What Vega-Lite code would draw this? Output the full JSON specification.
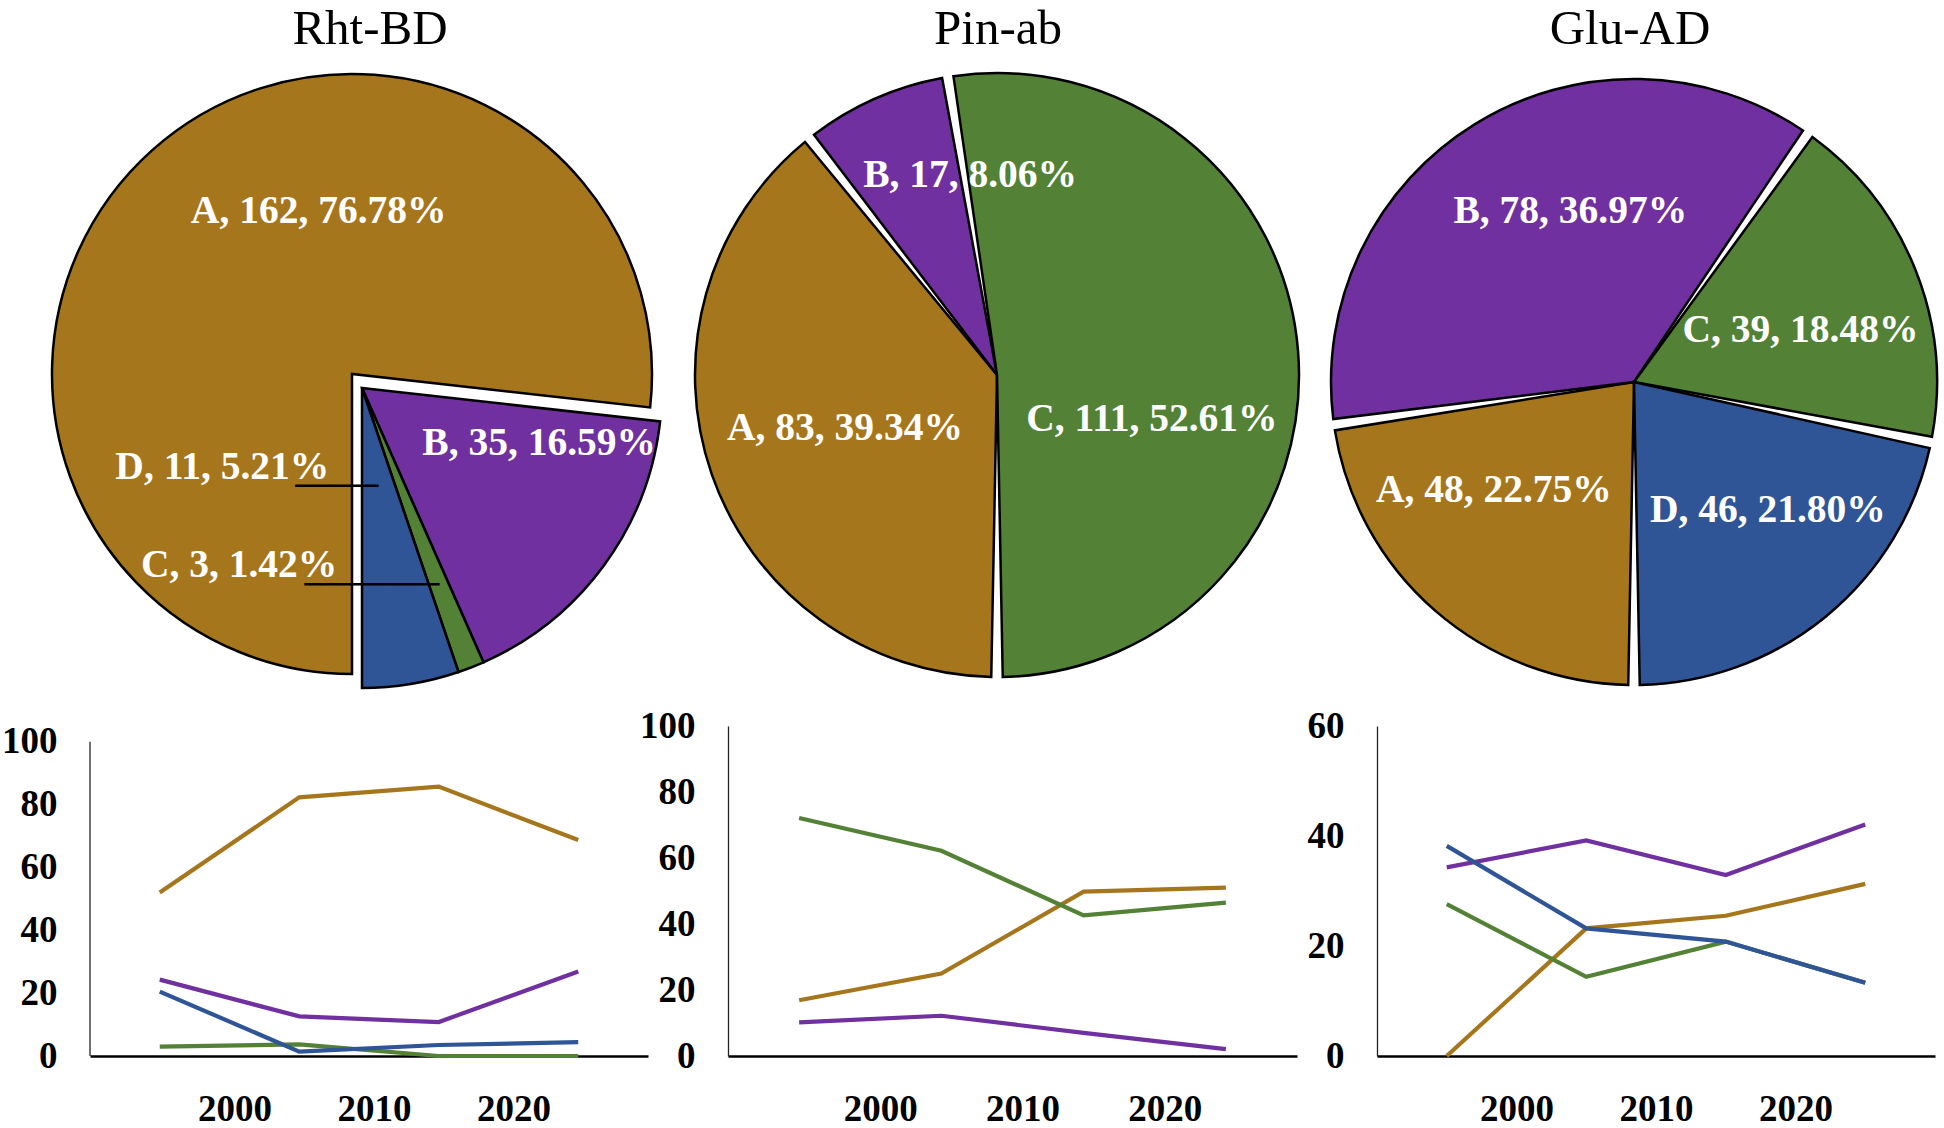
{
  "$schema": "https://vega.github.io/schema/vega-lite/v6.json",
  "autosize": {"type": "none"},
  "padding": {"left": 90, "top": 60, "right": 1854, "bottom": 1068},
  "background": "white",
  "datasets": {
    "pies": [
      {"g": "Rht-BD", "k": "A", "n": 162, "label": "A, 162, 76.78%"},
      {"g": "Rht-BD", "k": "B", "n": 35, "label": "B, 35, 16.59%"},
      {"g": "Rht-BD", "k": "C", "n": 3, "label": "C, 3, 1.42%"},
      {"g": "Rht-BD", "k": "D", "n": 11, "label": "D, 11, 5.21%"},
      {"g": "Pin-ab", "k": "A", "n": 83, "label": "A, 83, 39.34%"},
      {"g": "Pin-ab", "k": "B", "n": 17, "label": "B, 17, 8.06%"},
      {"g": "Pin-ab", "k": "C", "n": 111, "label": "C, 111, 52.61%"},
      {"g": "Glu-AD", "k": "A", "n": 48, "label": "A, 48, 22.75%"},
      {"g": "Glu-AD", "k": "B", "n": 78, "label": "B, 78, 36.97%"},
      {"g": "Glu-AD", "k": "C", "n": 39, "label": "C, 39, 18.48%"},
      {"g": "Glu-AD", "k": "D", "n": 46, "label": "D, 46, 21.80%"}
    ],
    "lines": [
      {"g": "Rht-BD", "k": "A", "year": 1995, "v": 52.0},
      {"g": "Rht-BD", "k": "A", "year": 2005, "v": 82.3},
      {"g": "Rht-BD", "k": "A", "year": 2015, "v": 85.7},
      {"g": "Rht-BD", "k": "A", "year": 2025, "v": 68.7},
      {"g": "Rht-BD", "k": "B", "year": 1995, "v": 24.3},
      {"g": "Rht-BD", "k": "B", "year": 2005, "v": 12.6},
      {"g": "Rht-BD", "k": "B", "year": 2015, "v": 10.8},
      {"g": "Rht-BD", "k": "B", "year": 2025, "v": 26.9},
      {"g": "Rht-BD", "k": "C", "year": 1995, "v": 3.0},
      {"g": "Rht-BD", "k": "C", "year": 2005, "v": 3.7},
      {"g": "Rht-BD", "k": "C", "year": 2015, "v": 0},
      {"g": "Rht-BD", "k": "C", "year": 2025, "v": 0},
      {"g": "Rht-BD", "k": "D", "year": 1995, "v": 20.5},
      {"g": "Rht-BD", "k": "D", "year": 2005, "v": 1.4},
      {"g": "Rht-BD", "k": "D", "year": 2015, "v": 3.5},
      {"g": "Rht-BD", "k": "D", "year": 2025, "v": 4.4},
      {"g": "Pin-ab", "k": "A", "year": 1995, "v": 16.9},
      {"g": "Pin-ab", "k": "A", "year": 2005, "v": 25.0},
      {"g": "Pin-ab", "k": "A", "year": 2015, "v": 49.8},
      {"g": "Pin-ab", "k": "A", "year": 2025, "v": 51.0},
      {"g": "Pin-ab", "k": "B", "year": 1995, "v": 10.2},
      {"g": "Pin-ab", "k": "B", "year": 2005, "v": 12.2},
      {"g": "Pin-ab", "k": "B", "year": 2015, "v": 7.0},
      {"g": "Pin-ab", "k": "B", "year": 2025, "v": 2.1},
      {"g": "Pin-ab", "k": "C", "year": 1995, "v": 72.1},
      {"g": "Pin-ab", "k": "C", "year": 2005, "v": 62.2},
      {"g": "Pin-ab", "k": "C", "year": 2015, "v": 42.6},
      {"g": "Pin-ab", "k": "C", "year": 2025, "v": 46.5},
      {"g": "Glu-AD", "k": "A", "year": 1995, "v": 0},
      {"g": "Glu-AD", "k": "A", "year": 2005, "v": 23.2},
      {"g": "Glu-AD", "k": "A", "year": 2015, "v": 25.5},
      {"g": "Glu-AD", "k": "A", "year": 2025, "v": 31.3},
      {"g": "Glu-AD", "k": "B", "year": 1995, "v": 34.3},
      {"g": "Glu-AD", "k": "B", "year": 2005, "v": 39.2},
      {"g": "Glu-AD", "k": "B", "year": 2015, "v": 32.9},
      {"g": "Glu-AD", "k": "B", "year": 2025, "v": 42.1},
      {"g": "Glu-AD", "k": "C", "year": 1995, "v": 27.6},
      {"g": "Glu-AD", "k": "C", "year": 2005, "v": 14.4},
      {"g": "Glu-AD", "k": "C", "year": 2015, "v": 20.8},
      {"g": "Glu-AD", "k": "C", "year": 2025, "v": 13.3},
      {"g": "Glu-AD", "k": "D", "year": 1995, "v": 38.2},
      {"g": "Glu-AD", "k": "D", "year": 2005, "v": 23.2},
      {"g": "Glu-AD", "k": "D", "year": 2015, "v": 20.8},
      {"g": "Glu-AD", "k": "D", "year": 2025, "v": 13.3}
    ]
  },
  "columns": 3,
  "align": "each",
  "bounds": "flush",
  "spacing": {"row": 10, "column": 80},
  "concat": [
    {
      "width": 558, "height": 656,
      "title": {"text": "Rht-BD", "offset": 6.5, "dx": 1},
      "data": {"name": "pies"},
      "transform": [{"filter": "datum.g === 'Rht-BD'"}],
      "encoding": {
        "theta": {"field": "n", "type": "quantitative", "stack": true, "scale": {"range": [3.14159265, 9.42477796]}},
        "order": {"field": "k", "type": "ordinal", "sort": "ascending"}
      },
      "layer": [
        {"mark": {"type": "arc", "radius": 300, "stroke": "black", "strokeWidth": 2.5, "xOffset": -7},
         "encoding": {
           "color": {"field": "k", "type": "nominal", "scale": {"domain": ["A", "B", "C", "D"], "range": ["#A6761D", "#7030A0", "#538135", "#2F5597"]}, "legend": null},
           "opacity": {"condition": {"test": "datum.k !== 'A'", "value": 1}, "value": 0}}},
        {"mark": {"type": "arc", "radius": 300, "stroke": "black", "strokeWidth": 2.5, "xOffset": -17, "yOffset": -14},
         "encoding": {
           "color": {"field": "k", "type": "nominal", "scale": {"domain": ["A", "B", "C", "D"], "range": ["#A6761D", "#7030A0", "#538135", "#2F5597"]}, "legend": null},
           "opacity": {"condition": {"test": "datum.k === 'A'", "value": 1}, "value": 0}}},
        {"mark": {"type": "text", "font": "Liberation Serif", "fontWeight": "bold", "fontSize": 39.5, "color": "white", "align": "center", "baseline": "middle", "radius": 185, "dx": 73, "dy": -39},
         "encoding": {"text": {"condition": {"test": "datum.k === 'A'", "field": "label"}, "value": ""}}},
        {"mark": {"type": "text", "font": "Liberation Serif", "fontWeight": "bold", "fontSize": 39.5, "color": "white", "align": "center", "baseline": "middle", "radius": 180, "dx": 25, "dy": -51},
         "encoding": {"text": {"condition": {"test": "datum.k === 'B'", "field": "label"}, "value": ""}}},
        {"mark": {"type": "text", "font": "Liberation Serif", "fontWeight": "bold", "fontSize": 39.5, "color": "white", "align": "right", "baseline": "middle", "radius": 100.3, "dx": -56, "dy": -20},
         "encoding": {"text": {"condition": {"test": "datum.k === 'D'", "field": "label"}, "value": ""}}},
        {"mark": {"type": "text", "font": "Liberation Serif", "fontWeight": "bold", "fontSize": 39.5, "color": "white", "align": "right", "baseline": "middle", "radius": 212.5, "dx": -109, "dy": -21},
         "encoding": {"text": {"condition": {"test": "datum.k === 'C'", "field": "label"}, "value": ""}}},
        {"mark": {"type": "text", "font": "DejaVu Sans Mono", "fontSize": 27.6, "color": "black", "align": "right", "baseline": "middle", "radius": 100.3, "dx": -7},
         "encoding": {"text": {"condition": {"test": "datum.k === 'D'", "value": "─────"}, "value": ""}}},
        {"mark": {"type": "text", "font": "DejaVu Sans Mono", "fontSize": 28, "color": "black", "align": "right", "baseline": "middle", "radius": 212.5, "dx": -7},
         "encoding": {"text": {"condition": {"test": "datum.k === 'C'", "value": "────────"}, "value": ""}}}
      ]
    },
    {
      "width": 569, "height": 630,
      "title": {"text": "Pin-ab", "offset": 6.5, "dx": -14.5},
      "data": {"name": "pies"},
      "transform": [{"filter": "datum.g === 'Pin-ab'"}],
      "encoding": {
        "theta": {"field": "n", "type": "quantitative", "stack": true, "scale": {"range": [3.14159265, 9.42477796]}},
        "order": {"field": "k", "type": "ordinal", "sort": "ascending"}
      },
      "layer": [
        {"mark": {"type": "arc", "radius": 302, "stroke": "black", "strokeWidth": 2.5, "xOffset": -15.5, "padAngle": 0.038},
         "encoding": {
           "color": {"field": "k", "type": "nominal", "scale": {"domain": ["A", "B", "C", "D"], "range": ["#A6761D", "#7030A0", "#538135", "#2F5597"]}, "legend": null}}},
        {"mark": {"type": "text", "font": "Liberation Serif", "fontWeight": "bold", "fontSize": 39.5, "color": "white", "align": "center", "baseline": "middle", "radius": 160, "dx": -16.4, "dy": 0},
         "encoding": {"text": {"condition": {"test": "datum.k === 'A'", "field": "label"}, "value": ""}}},
        {"mark": {"type": "text", "font": "Liberation Serif", "fontWeight": "bold", "fontSize": 39.5, "color": "white", "align": "center", "baseline": "middle", "radius": 200, "dx": 38.6, "dy": -17},
         "encoding": {"text": {"condition": {"test": "datum.k === 'B'", "field": "label"}, "value": ""}}},
        {"mark": {"type": "text", "font": "Liberation Serif", "fontWeight": "bold", "fontSize": 39.5, "color": "white", "align": "center", "baseline": "middle", "radius": 160, "dx": -20, "dy": 57},
         "encoding": {"text": {"condition": {"test": "datum.k === 'C'", "field": "label"}, "value": ""}}}
      ]
    },
    {
      "width": 558, "height": 644,
      "title": {"text": "Glu-AD", "offset": 6.5, "dx": -26},
      "data": {"name": "pies"},
      "transform": [{"filter": "datum.g === 'Glu-AD'"}],
      "encoding": {
        "theta": {"field": "n", "type": "quantitative", "stack": true, "scale": {"range": [3.14159265, 9.42477796]}},
        "order": {"field": "k", "type": "ordinal", "sort": "ascending"}
      },
      "layer": [
        {"mark": {"type": "arc", "radius": 303, "stroke": "black", "strokeWidth": 2.5, "xOffset": -22, "padAngle": 0.038},
         "encoding": {
           "color": {"field": "k", "type": "nominal", "scale": {"domain": ["A", "B", "C", "D"], "range": ["#A6761D", "#7030A0", "#538135", "#2F5597"]}, "legend": null}}},
        {"mark": {"type": "text", "font": "Liberation Serif", "fontWeight": "bold", "fontSize": 39.5, "color": "white", "align": "center", "baseline": "middle", "radius": 165, "dx": -54, "dy": -17},
         "encoding": {"text": {"condition": {"test": "datum.k === 'A'", "field": "label"}, "value": ""}}},
        {"mark": {"type": "text", "font": "Liberation Serif", "fontWeight": "bold", "fontSize": 39.5, "color": "white", "align": "center", "baseline": "middle", "radius": 180, "dx": 8.5, "dy": -18},
         "encoding": {"text": {"condition": {"test": "datum.k === 'B'", "field": "label"}, "value": ""}}},
        {"mark": {"type": "text", "font": "Liberation Serif", "fontWeight": "bold", "fontSize": 39.5, "color": "white", "align": "center", "baseline": "middle", "radius": 175, "dx": -18, "dy": 12.5},
         "encoding": {"text": {"condition": {"test": "datum.k === 'C'", "field": "label"}, "value": ""}}},
        {"mark": {"type": "text", "font": "Liberation Serif", "fontWeight": "bold", "fontSize": 39.5, "color": "white", "align": "center", "baseline": "middle", "radius": 180, "dx": -2, "dy": -11},
         "encoding": {"text": {"condition": {"test": "datum.k === 'D'", "field": "label"}, "value": ""}}}
      ]
    },
    {
      "width": 558, "height": 330,
      "layer": [
        {"data": {"name": "lines"},
         "transform": [{"filter": "datum.g === 'Rht-BD'"}],
         "mark": {"type": "line", "strokeWidth": 4.2},
         "encoding": {
           "x": {"field": "year", "type": "quantitative", "scale": {"domain": [1990, 2030], "nice": false, "zero": false}, "axis": {"values": [2000, 2010, 2020], "format": "d", "title": null, "labelOffset": 5}},
           "y": {"field": "v", "type": "quantitative", "scale": {"domain": [0, 105], "nice": false}, "axis": {"values": [0, 20, 40, 60, 80, 100], "title": null, "domain": false}},
           "color": {"field": "k", "type": "nominal", "scale": {"domain": ["A", "B", "C", "D"], "range": ["#B8862B", "#7F30BE", "#5A8C3B", "#2F5DA8"]}, "legend": null}
         }},
        {"data": {"values": [{}]},
         "mark": {"type": "rule", "color": "#222222", "strokeWidth": 1.3},
         "encoding": {"x": {"datum": 1990}, "y": {"datum": 0}, "y2": {"datum": 100}}}
      ]
    },
    {
      "width": 569, "height": 330,
      "data": {"name": "lines"},
      "transform": [{"filter": "datum.g === 'Pin-ab'"}],
      "mark": {"type": "line", "strokeWidth": 4.2},
      "encoding": {
        "x": {"field": "year", "type": "quantitative", "scale": {"domain": [1990, 2030], "nice": false, "zero": false}, "axis": {"values": [2000, 2010, 2020], "format": "d", "title": null, "labelOffset": 10}},
        "y": {"field": "v", "type": "quantitative", "scale": {"domain": [0, 100], "nice": false}, "axis": {"values": [0, 20, 40, 60, 80, 100], "title": null}},
        "color": {"field": "k", "type": "nominal", "scale": {"domain": ["A", "B", "C", "D"], "range": ["#B8862B", "#7F30BE", "#5A8C3B", "#2F5DA8"]}, "legend": null}
      }
    },
    {
      "width": 558, "height": 330,
      "data": {"name": "lines"},
      "transform": [{"filter": "datum.g === 'Glu-AD'"}],
      "mark": {"type": "line", "strokeWidth": 4.2},
      "encoding": {
        "x": {"field": "year", "type": "quantitative", "scale": {"domain": [1990, 2030], "nice": false, "zero": false}, "axis": {"values": [2000, 2010, 2020], "format": "d", "title": null}},
        "y": {"field": "v", "type": "quantitative", "scale": {"domain": [0, 60], "nice": false}, "axis": {"values": [0, 20, 40, 60], "title": null}},
        "color": {"field": "k", "type": "nominal", "scale": {"domain": ["A", "B", "C", "D"], "range": ["#B8862B", "#7F30BE", "#5A8C3B", "#2F5DA8"]}, "legend": null}
      }
    }
  ],
  "config": {
    "view": {"stroke": null},
    "title": {"font": "Liberation Serif", "fontSize": 49, "fontWeight": "normal", "color": "black", "baseline": "bottom", "anchor": "middle", "frame": "group"},
    "axis": {"labelFont": "Liberation Serif", "labelFontWeight": "bold", "labelFontSize": 37, "labelColor": "black", "ticks": false, "grid": false, "labelOverlap": false, "labelFlush": false},
    "axisX": {"domainColor": "black", "domainWidth": 2.5, "labelPadding": 35},
    "axisY": {"domainColor": "#222222", "domainWidth": 1.3, "labelPadding": 33}
  }
}
